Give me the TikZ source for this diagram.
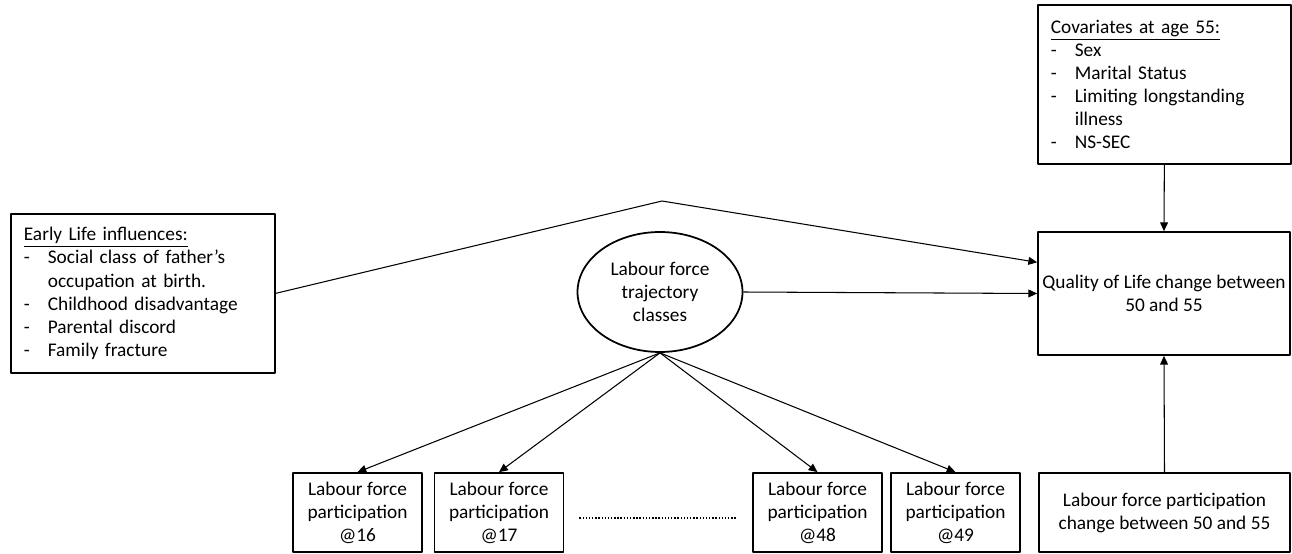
\documentclass[tikz,border=0pt]{standalone}
\usepackage{fontspec}
\setmainfont{Carlito}
\usetikzlibrary{shapes.geometric,arrows.meta,calc}
\newcommand{\dashit}{\makebox[0.48cm][l]{-}}
\begin{document}
\begin{tikzpicture}[x=0.02cm, y=-0.02cm, font=\fontsize{11}{13.1}\selectfont, line join=round,
  >={Triangle[length=5pt,width=4.5pt]},
  box/.style={draw, line width=1pt, inner sep=0pt, align=center},
  listbox/.style={draw, line width=1pt, anchor=north west, minimum height=3.18cm, inner xsep=0.26cm, inner ysep=0pt, align=left},
  link/.style={->, line width=0.6pt}]
\useasboundingbox (0,0) rectangle (1292,554);
% outer boxes
\node[listbox, text width=4.76cm] (early) at (10,213) {\underline{Early Life influences:}\\
  \dashit Social class of father's\\
  \hspace*{0.48cm}occupation at birth.\\
  \dashit Childhood disadvantage\\
  \dashit Parental discord\\
  \dashit Family fracture};
\node[listbox, text width=4.54cm] (cov) at (1037,4) {\underline{Covariates at age 55:}\\
  \dashit Sex\\
  \dashit Marital Status\\
  \dashit Limiting longstanding\\
  \hspace*{0.48cm}illness\\
  \dashit NS-SEC};
\node[box, minimum width=5.04cm, minimum height=2.46cm] (qol) at (1164,293.5) {Quality of Life change between\\50 and 55};
\node[box, minimum width=5.02cm, minimum height=1.58cm] (lfpc) at (1164.5,512.5) {Labour force participation\\change between 50 and 55};
% latent classes
\node[draw, ellipse, line width=1pt, minimum width=3.3cm, minimum height=2.4cm, inner sep=0pt, align=center] (traj) at (660,292) {Labour force\\trajectory\\classes};
% participation at each age
\foreach \age/\x in {16/357.5, 17/499, 48/817.5, 49/955.5}{
  \node[box, minimum width=2.58cm, minimum height=1.58cm] (p\age) at (\x,512.5) {Labour force\\participation\\@\age};
  \draw[link] (traj.south) -- (p\age.north);
}
\draw[densely dotted, line width=0.8pt] ([xshift=0.3cm,yshift=-0.11cm]p17.east) -- ([xshift=-0.3cm,yshift=-0.11cm]p48.west);
% paths into quality of life
\coordinate (peak) at (662,201);
\draw[link] (early.east) -- (peak) -- ($(qol.north west)!0.25!(qol.south west)$);
\draw[link] (traj.east) -- (qol.west);
\draw[link] (cov.south) -- (qol.north);
\draw[link] (lfpc.north) -- (qol.south);
\end{tikzpicture}
\end{document}
